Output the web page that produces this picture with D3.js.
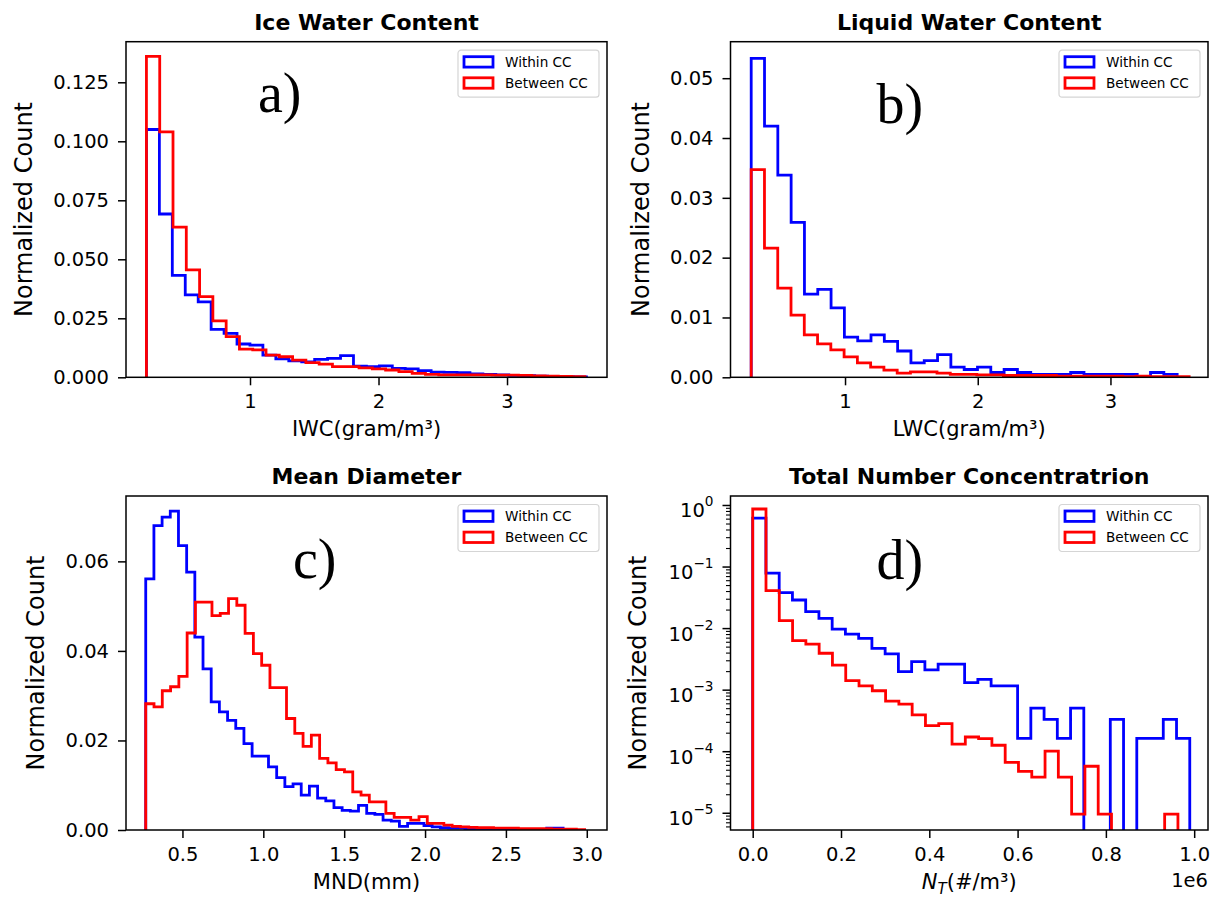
<!DOCTYPE html>
<html>
<head>
<meta charset="utf-8">
<script src="https://cdn.jsdelivr.net/npm/d3@7"></script>
<style>
  body { margin: 0; background: #fff; }
  text { font-family: "DejaVu Sans", sans-serif; fill: #000; }
</style>
</head>
<body>
<svg id="fig" width="1217" height="905"></svg>
<script>
// ---- data: [first bin edge, bin width] and normalized counts per bin ----
// a) Ice Water Content
const iwcWithinBins = [0.194, 0.1007];
const iwcWithin = [0.105, 0.0692, 0.0432, 0.0349, 0.0320, 0.0203, 0.0186, 0.0141, 0.0136, 0.0094,
  0.0078, 0.0070, 0.0065, 0.0076, 0.0080, 0.0092, 0.0047, 0.0045, 0.0048, 0.0038,
  0.0036, 0.0028, 0.0022, 0.0021, 0.0020, 0.0014, 0.0012, 0.0010, 0.0008, 0.0007,
  0.0005, 0.0004, 0.0003, 0.0002];
const iwcBetweenBins = [0.194, 0.1034];
const iwcBetween = [0.136, 0.104, 0.0636, 0.0455, 0.0342, 0.0239, 0.0172, 0.0119, 0.0116, 0.0094,
  0.0087, 0.0073, 0.0062, 0.0056, 0.0045, 0.0045, 0.0040, 0.0036, 0.0031, 0.0024,
  0.0017, 0.0012, 0.0010, 0.0010, 0.0010, 0.0010, 0.0009, 0.0009, 0.0008, 0.0006,
  0.0005, 0.0004, 0.0003];

// b) Liquid Water Content
const lwcWithinBins = [0.293, 0.1003];
const lwcWithin = [0.0533, 0.0420, 0.0338, 0.0259, 0.0139, 0.0147, 0.0116, 0.0067, 0.0061, 0.0071,
  0.0060, 0.0044, 0.0024, 0.0028, 0.0038, 0.0017, 0.0013, 0.0017, 0.0008, 0.0013,
  0.0008, 0.0005, 0.0005, 0.0005, 0.0008, 0.0005, 0.0005, 0.0005, 0.0005, 0.0001,
  0.0008, 0.0005];
const lwcBetweenBins = [0.293, 0.1];
const lwcBetween = [0.0347, 0.0216, 0.0149, 0.0104, 0.0071, 0.0056, 0.0046, 0.0034, 0.0024, 0.0017,
  0.0012, 0.0007, 0.0009, 0.0009, 0.0007, 0.0005, 0.0005, 0.0004, 0.0004, 0.0003,
  0.0003, 0.0003, 0.0003, 0.0002, 0.0002, 0.0002, 0.0002, 0.0002, 0.0001, 0.0002,
  0.0001, 0.0001, 0.0001];

// c) Mean Diameter
const mndWithinBins = [0.273, 0.0506];
const mndWithin = [0.0561, 0.0680, 0.0699, 0.0712, 0.0635, 0.0576, 0.0431, 0.0360, 0.0286, 0.0264,
  0.0245, 0.0227, 0.0193, 0.0165, 0.0165, 0.0141, 0.0117, 0.0097, 0.0103, 0.0078,
  0.0098, 0.0071, 0.0065, 0.0050, 0.0044, 0.0042, 0.0055, 0.0037, 0.0035, 0.0022,
  0.0020, 0.0008, 0.0015, 0.0015, 0.0010, 0.0007, 0.0005, 0.0004, 0.0004, 0.0003,
  0.0003, 0.0002, 0.0002, 0.0002, 0.0001, 0.0001, 0.0001, 0.0001, 0.0001, 0.0004,
  0.0004];
const mndBetweenBins = [0.273, 0.0512];
const mndBetween = [0.0282, 0.0275, 0.0311, 0.0320, 0.0343, 0.0440, 0.0509, 0.0509, 0.0479, 0.0484,
  0.0517, 0.0502, 0.0439, 0.0394, 0.0368, 0.0318, 0.0318, 0.0249, 0.0216, 0.0187,
  0.0212, 0.0160, 0.0150, 0.0135, 0.0130, 0.0085, 0.0078, 0.0063, 0.0063, 0.0037,
  0.0028, 0.0028, 0.0022, 0.0030, 0.0015, 0.0015, 0.0011, 0.0008, 0.0007, 0.0006,
  0.0005, 0.0005, 0.0004, 0.0004, 0.0004, 0.0003, 0.0003, 0.0003, 0.0003, 0.0002,
  0.0002, 0.0002, 0.0001];

// d) Total Number Concentration (x in units of 1e6)
const ntWithinBins = [0, 0.03];
const ntWithin = [0.61, 0.078, 0.0376, 0.0286, 0.0185, 0.0144, 0.0096, 0.0080, 0.0068, 0.0047,
  0.0038, 0.00196, 0.00285, 0.0021, 0.0026, 0.0026, 0.0013, 0.00147, 0.00115, 0.00115,
  0.000162, 0.0005, 0.00033, 0.000162, 0.0005, 0, 0, 0.00033, 0, 0.000162,
  0.000162, 0.00033, 0.000162];
const ntBetweenBins = [0, 0.0301];
const ntBetween = [0.86, 0.0405, 0.0132, 0.00625, 0.0055, 0.0039, 0.0025, 0.0014, 0.00115, 0.00096,
  0.00065, 0.00058, 0.00039, 0.00026, 0.00028, 0.00013, 0.00017, 0.00016, 0.000125, 0.000066,
  0.000047, 0.000038, 0.0001, 0.000038, 0.0000095, 0.000057, 0.0000095, 0, 0, 0,
  0, 0.0000095];

const seriesNames = ["Within CC", "Between CC"];
const seriesColors = ["#0000ff", "#ff0000"];

const panels = [
  {
    title: "Ice Water Content", box: { l: 126, r: 607, t: 41.7, b: 377.3 },
    xDomain: [0.035, 3.778], yDomain: [0, 0.1422],
    xTicks: [1, 2, 3], xFmt: d3.format("d"),
    yTicks: [0, 0.025, 0.05, 0.075, 0.1, 0.125], yFmt: d3.format(".3f"),
    series: [[iwcWithinBins, iwcWithin], [iwcBetweenBins, iwcBetween]],
    letter: { t: "a)", dx: 132, dy: 70 }, xlabel: "IWC(gram/m³)", ylabelOff: 102
  },
  {
    title: "Liquid Water Content", box: { l: 730.5, r: 1208, t: 41.7, b: 377.3 },
    xDomain: [0.137, 3.735], yDomain: [0, 0.0561],
    xTicks: [1, 2, 3], xFmt: d3.format("d"),
    yTicks: [0, 0.01, 0.02, 0.03, 0.04, 0.05], yFmt: d3.format(".2f"),
    series: [[lwcWithinBins, lwcWithin], [lwcBetweenBins, lwcBetween]],
    letter: { t: "b)", dx: 146, dy: 81.6 }, xlabel: "LWC(gram/m³)", ylabelOff: 90
  },
  {
    title: "Mean Diameter", box: { l: 126, r: 607, t: 496, b: 830 },
    xDomain: [0.151, 3.125], yDomain: [0, 0.0746],
    xTicks: [0.5, 1, 1.5, 2, 2.5, 3], xFmt: d3.format(".1f"),
    yTicks: [0, 0.02, 0.04, 0.06], yFmt: d3.format(".2f"),
    series: [[mndWithinBins, mndWithin], [mndBetweenBins, mndBetween]],
    letter: { t: "c)", dx: 167, dy: 82 }, xlabel: "MND(mm)", ylabelOff: 90
  },
  {
    title: "Total Number Concentratrion", box: { l: 730.5, r: 1208, t: 496, b: 830 },
    xDomain: [-0.0503, 1.0313], yDomain: [Math.pow(10, -5.28), Math.pow(10, 0.146)], log: true,
    xTicks: [0, 0.2, 0.4, 0.6, 0.8, 1.0], xFmt: d3.format(".1f"),
    yTicks: [1e-5, 1e-4, 1e-3, 1e-2, 1e-1, 1],
    series: [[ntWithinBins, ntWithin], [ntBetweenBins, ntBetween]],
    letter: { t: "d)", dx: 146, dy: 83 }, xlabel: null, ylabelOff: 93
  }
];

const svg = d3.select("#fig");
const TICK_FONT = 19.5;

panels.forEach((p, pi) => {
  const { l, r, t, b } = p.box;
  const x = d3.scaleLinear().domain(p.xDomain).range([l, r]);
  const y = (p.log ? d3.scaleLog() : d3.scaleLinear()).domain(p.yDomain).range([b, t]);
  const floor = p.log ? b + 8 : y(0);
  const g = svg.append("g");

  g.append("clipPath").attr("id", "clip" + pi)
    .append("rect").attr("x", l).attr("y", t).attr("width", r - l).attr("height", b - t);

  // step histograms, "Within" first so "Between" sits on top
  p.series.forEach(([bins, counts], si) => {
    const [start, width] = bins;
    const pts = [[x(start), floor]];
    counts.forEach((c, i) => {
      const yy = c > 0 ? y(c) : floor;
      pts.push([x(start + i * width), yy], [x(start + (i + 1) * width), yy]);
    });
    pts.push([x(start + counts.length * width), floor]);
    g.append("path")
      .attr("clip-path", `url(#clip${pi})`)
      .attr("d", d3.line()(pts))
      .attr("fill", "none")
      .attr("stroke", seriesColors[si])
      .attr("stroke-width", 2.8)
      .attr("stroke-linejoin", "miter");
  });

  // axes frame
  g.append("rect").attr("x", l).attr("y", t).attr("width", r - l).attr("height", b - t)
    .attr("fill", "none").attr("stroke", "#000").attr("stroke-width", 1.5);

  // x axis
  const xa = g.append("g").attr("transform", `translate(0,${b})`)
    .call(d3.axisBottom(x).tickValues(p.xTicks).tickFormat(p.xFmt).tickSize(8).tickPadding(9));
  // y axis
  const ya = g.append("g").attr("transform", `translate(${l},0)`);
  if (p.log) {
    const minor = [];
    for (let e = -6; e <= 0; e++) for (let m = 2; m <= 9; m++) {
      const v = m * Math.pow(10, e);
      if (v >= p.yDomain[0] && v <= p.yDomain[1]) minor.push(v);
    }
    g.append("g").attr("transform", `translate(${l},0)`)
      .call(d3.axisLeft(y).tickValues(minor).tickFormat("").tickSize(4.5))
      .call(s => s.select(".domain").remove())
      .selectAll("line").attr("stroke-width", 1.1);
    ya.call(d3.axisLeft(y).tickValues(p.yTicks).tickFormat("").tickSize(8).tickPadding(9));
    ya.selectAll(".tick text").each(function (d) {
      const txt = d3.select(this).attr("dy", null).attr("y", 12);
      const ex = Math.round(Math.log10(d));
      txt.append("tspan").text("10");
      txt.append("tspan").attr("dy", -11).attr("font-size", TICK_FONT * 0.7)
        .text(ex < 0 ? "\u2212" + (-ex) : String(ex));
    });
  } else {
    ya.call(d3.axisLeft(y).tickValues(p.yTicks).tickFormat(p.yFmt).tickSize(8).tickPadding(9));
  }
  [xa, ya].forEach(a => {
    a.select(".domain").remove();
    a.selectAll("line").attr("stroke", "#000").attr("stroke-width", 1.5);
    a.selectAll("text").attr("font-size", TICK_FONT).attr("font-family", "DejaVu Sans").attr("fill", "#000");
  });

  // title
  g.append("text").attr("x", (l + r) / 2).attr("y", t - 12)
    .attr("text-anchor", "middle").attr("font-weight", "bold").attr("font-size", 22)
    .text(p.title);

  // x label
  const xl = g.append("text").attr("x", (l + r) / 2).attr("y", b + 59)
    .attr("text-anchor", "middle").attr("font-size", 21);
  if (p.xlabel) xl.text(p.xlabel);
  else {
    xl.append("tspan").attr("font-style", "italic").text("N");
    xl.append("tspan").attr("font-style", "italic").attr("font-size", 15).attr("dy", 5).text("T");
    xl.append("tspan").attr("dy", -5).text("(#/m³)");
    g.append("text").attr("x", r).attr("y", b + 57).attr("text-anchor", "end")
      .attr("font-size", TICK_FONT).text("1e6");
  }

  // y label
  g.append("text")
    .attr("transform", `translate(${l - p.ylabelOff},${(t + b) / 2}) rotate(-90)`)
    .attr("text-anchor", "middle").attr("dy", "0.35em").attr("font-size", 24)
    .text("Normalized Count");

  // panel letter
  g.append("text").attr("x", l + p.letter.dx).attr("y", t + p.letter.dy)
    .attr("font-size", 56).attr("fill", "#111")
    .style("font-family", "'Liberation Serif', serif")
    .text(p.letter.t);

  // legend
  const lg = g.append("g").attr("transform", `translate(${r - 149},${t + 8.5})`);
  lg.append("rect").attr("width", 141).attr("height", 47).attr("rx", 3)
    .attr("fill", "#fff").attr("fill-opacity", 0.8).attr("stroke", "#d5d5d5").attr("stroke-width", 1.2);
  seriesNames.forEach((name, i) => {
    const cy = 11.7 + i * 21.1;
    lg.append("rect").attr("x", 6).attr("y", cy - 5.2).attr("width", 29).attr("height", 10.4)
      .attr("fill", "none").attr("stroke", seriesColors[i]).attr("stroke-width", 2.8);
    lg.append("text").attr("x", 47).attr("y", cy).attr("dy", "0.36em")
      .attr("font-size", 13.6).attr("fill", "#333").text(name);
  });
});
</script>
</body>
</html>
